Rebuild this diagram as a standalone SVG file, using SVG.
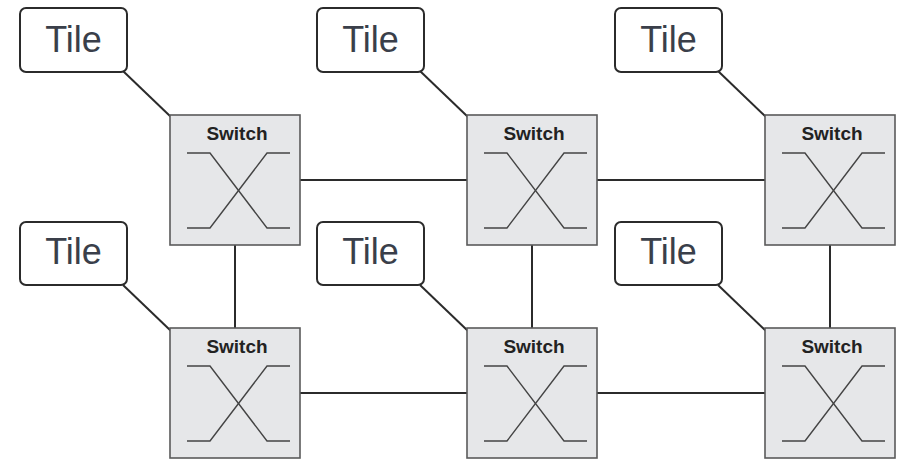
<svg xmlns="http://www.w3.org/2000/svg" width="903" height="459" viewBox="0 0 903 459">
<style>
.tile{fill:#fff;stroke:#2b2b2b;stroke-width:2}
.tt{font-family:"Liberation Sans",Arial,sans-serif;font-size:36px;fill:#3a3f4a;text-anchor:middle}
.sw{fill:#e6e7e9;stroke:#5a5a5a;stroke-width:1.6}
.st{font-family:"Liberation Sans",Arial,sans-serif;font-size:19px;font-weight:bold;fill:#222;text-anchor:middle}
.x{fill:none;stroke:#444;stroke-width:1.4}
.c{stroke:#2b2b2b;stroke-width:2;fill:none}
</style>
<defs>
<g id="xs">
<polyline class="x" points="17,38 40,38 97,113 120,113"/>
<polyline class="x" points="17,113 40,113 97,38 120,38"/>
</g>
</defs>
<g id="connectors">
<line class="c" x1="123" y1="71" x2="171" y2="117"/>
<line class="c" x1="420" y1="71" x2="468" y2="117"/>
<line class="c" x1="718" y1="71" x2="766" y2="117"/>
<line class="c" x1="123" y1="285" x2="171" y2="331"/>
<line class="c" x1="420" y1="285" x2="468" y2="331"/>
<line class="c" x1="718" y1="285" x2="766" y2="331"/>
<line class="c" x1="300" y1="180" x2="467" y2="180"/>
<line class="c" x1="597" y1="180" x2="765" y2="180"/>
<line class="c" x1="300" y1="393" x2="467" y2="393"/>
<line class="c" x1="597" y1="393" x2="765" y2="393"/>
<line class="c" x1="235" y1="245" x2="235" y2="328"/>
<line class="c" x1="532" y1="245" x2="532" y2="328"/>
<line class="c" x1="830" y1="245" x2="830" y2="328"/>
</g>
<g id="tile1"><rect class="tile" x="20" y="8" width="107" height="64" rx="6"/><text class="tt" x="73.5" y="52">Tile</text></g>
<g id="tile2"><rect class="tile" x="317" y="8" width="107" height="64" rx="6"/><text class="tt" x="370.5" y="52">Tile</text></g>
<g id="tile3"><rect class="tile" x="615" y="8" width="107" height="64" rx="6"/><text class="tt" x="668.5" y="52">Tile</text></g>
<g id="tile4"><rect class="tile" x="20" y="222" width="107" height="63" rx="6"/><text class="tt" x="73.5" y="264">Tile</text></g>
<g id="tile5"><rect class="tile" x="317" y="222" width="107" height="63" rx="6"/><text class="tt" x="370.5" y="264">Tile</text></g>
<g id="tile6"><rect class="tile" x="615" y="222" width="107" height="63" rx="6"/><text class="tt" x="668.5" y="264">Tile</text></g>
<g id="switch1"><rect class="sw" x="170" y="115" width="130" height="130"/><text class="st" x="237" y="140">Switch</text><use href="#xs" x="170" y="115"/></g>
<g id="switch2"><rect class="sw" x="467" y="115" width="130" height="130"/><text class="st" x="534" y="140">Switch</text><use href="#xs" x="467" y="115"/></g>
<g id="switch3"><rect class="sw" x="765" y="115" width="130" height="130"/><text class="st" x="832" y="140">Switch</text><use href="#xs" x="765" y="115"/></g>
<g id="switch4"><rect class="sw" x="170" y="328" width="130" height="130"/><text class="st" x="237" y="353">Switch</text><use href="#xs" x="170" y="328"/></g>
<g id="switch5"><rect class="sw" x="467" y="328" width="130" height="130"/><text class="st" x="534" y="353">Switch</text><use href="#xs" x="467" y="328"/></g>
<g id="switch6"><rect class="sw" x="765" y="328" width="130" height="130"/><text class="st" x="832" y="353">Switch</text><use href="#xs" x="765" y="328"/></g>
</svg>
